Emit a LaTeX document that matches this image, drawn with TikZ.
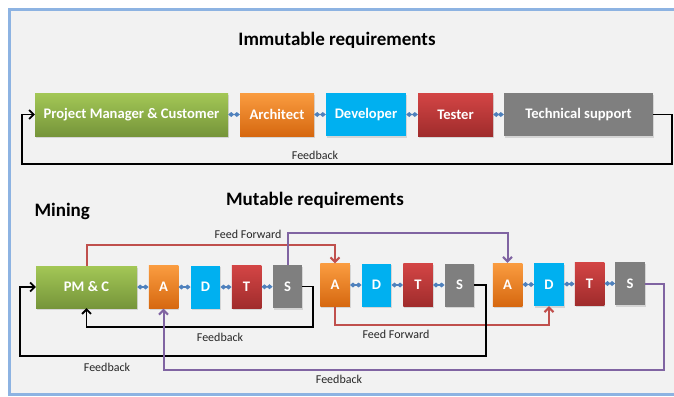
\documentclass[tikz,border=0pt]{standalone}
\usepackage{fontspec}
\setmainfont{Carlito}
\usetikzlibrary{arrows.meta,shadows,calc}

\definecolor{framebg}{HTML}{F2F2F2}
\definecolor{frameline}{HTML}{8DB3E2}
\definecolor{grntop}{HTML}{A3C756}
\definecolor{grnbot}{HTML}{76953A}
\definecolor{orgtop}{HTML}{FA9C40}
\definecolor{orgbot}{HTML}{D66810}
\definecolor{bluebox}{HTML}{00B0F0}
\definecolor{redtop}{HTML}{D34545}
\definecolor{redbot}{HTML}{A02C2C}
\definecolor{graybox}{HTML}{7F7F7F}
\definecolor{linkblue}{HTML}{4F81BD}
\definecolor{ffred}{HTML}{C0504D}
\definecolor{fbpurple}{HTML}{8064A2}

\tikzset{
  x=1pt, y=-1pt,
  box/.style={inner sep=0pt, minimum height=43pt, text=white,
    font=\bfseries\fontsize{14.6}{17}\selectfont,
    drop shadow={shadow xshift=1pt, shadow yshift=-1.5pt, opacity=0.25}},
  pmbox/.style={box, top color=grntop, bottom color=grnbot},
  abox/.style={box, top color=orgtop, bottom color=orgbot},
  dbox/.style={box, fill=bluebox},
  tbox/.style={box, top color=redtop, bottom color=redbot},
  sbox/.style={box, fill=graybox},
  small/.style={minimum width=29.5pt},
  link/.style={draw=linkblue, line width=1.4pt,
    {Diamond[length=6pt,width=5pt]}-{Diamond[length=6pt,width=5pt]}},
  tip/.style={-{Straight Barb[length=4.5pt,width=9pt]}},
  fbline/.style={draw=black, line width=1.8pt, tip},
  ffline/.style={draw=ffred, line width=2pt, tip},
  pline/.style={draw=fbpurple, line width=2pt, tip},
  lbl/.style={font=\fontsize{12}{14}\selectfont, text=black!85},
  title/.style={font=\bfseries\fontsize{19}{22}\selectfont}
}

\begin{document}
\begin{tikzpicture}
\useasboundingbox (0,0) rectangle (674,396);
\fill[white] (0,0) rectangle (674,396);
% framed panel
\fill[framebg] (9,10) rectangle (690,394);
\draw[frameline, line width=3pt] (690,10) -- (9.5,10) -- (9.5,394) -- (690,394);

% titles
\node[title] (t1) at (337,40) {Immutable requirements};
\node[title] (t2) at (315,200) {Mutable requirements};
\node[title, anchor=west] (mining) at (31,211) {Mining};

% immutable chain
\node[pmbox, minimum width=193pt] (pmc) at (131.5,114.5) {Project Manager \& Customer};
\node[abox, minimum width=74pt] (arch) at (277,114.5) {Architect};
\node[dbox, minimum width=80pt] (dev) at (366,114.5) {Developer};
\node[tbox, minimum width=75pt] (test) at (455.5,114.5) {Tester};
\node[sbox, minimum width=149pt] (tech) at (578.5,114.5) {Technical support};

\draw[link] (pmc) -- (arch);
\draw[link] (arch) -- (dev);
\draw[link] (dev) -- (test);
\draw[link] (test) -- (tech);

\coordinate (topr) at (672,164);
\coordinate (topl) at (22,164);
\draw[fbline] (tech.east) -| (topr) -- (topl) |- (pmc.west);
\node[lbl] (fbtop) at (315,155) {Feedback};

% mutable chain
\node[pmbox, minimum width=101pt, minimum height=42pt] (pm2) at (86.5,287) {PM \& C};
\node[abox, small] (a1) at (163.5,287) {A};
\node[dbox, small] (d1) at (205.5,287) {D};
\node[tbox, small] (t1b) at (246.5,287) {T};
\node[sbox, small] (s1) at (287.5,286.5) {S};

\node[abox, small] (a2) at (335,285) {A};
\node[dbox, small] (d2) at (376.5,285) {D};
\node[tbox, small] (t2b) at (418,285) {T};
\node[sbox, small] (s2) at (459.5,285) {S};

\node[abox, small] (a3) at (507.5,284.5) {A};
\node[dbox, small] (d3) at (549,284.5) {D};
\node[tbox, small] (t3b) at (589.5,283.5) {T};
\node[sbox, small] (s3) at (630,283.5) {S};

\draw[link] (pm2) -- (a1);
\draw[link] (a1) -- (d1);
\draw[link] (d1) -- (t1b);
\draw[link] (t1b) -- (s1);
\draw[link] (a2) -- (d2);
\draw[link] (d2) -- (t2b);
\draw[link] (t2b) -- (s2);
\draw[link] (a3) -- (d3);
\draw[link] (d3) -- (t3b);
\draw[link] (t3b) -- (s3);

% feed forward (red)
\coordinate (ffa) at (0,245);
\draw[ffline] (pm2.north) -- (pm2.north |- ffa) -| (a2.north);
\node[lbl] (ff1) at (248,234) {Feed Forward};
\coordinate (ffb) at (0,325);
\draw[ffline] (a2.south) -- (a2.south |- ffb) -| (d3.south);
\node[lbl] (ff2) at (396,334) {Feed Forward};

% feed forward (purple)
\coordinate (pfa) at (0,233);
\draw[pline] (s1.north) -- (s1.north |- pfa) -| (a3.north);

% feedback loops
\coordinate (fb1) at (313,327);
\draw[fbline] (s1.east) -| (fb1) -| (pm2.south);
\node[lbl] (fbl1) at (220,337) {Feedback};

\coordinate (fb2r) at (486,356);
\coordinate (fb2l) at (20,356);
\draw[fbline] (s2.east) -| (fb2r) -- (fb2l) |- (pm2.west);
\node[lbl] (fbl2) at (107,367) {Feedback};

\coordinate (fb3) at (664,370);
\draw[pline] (s3.east) -| (fb3) -| (a1.south);
\node[lbl] (fbl3) at (339,379) {Feedback};
\end{tikzpicture}
\end{document}
